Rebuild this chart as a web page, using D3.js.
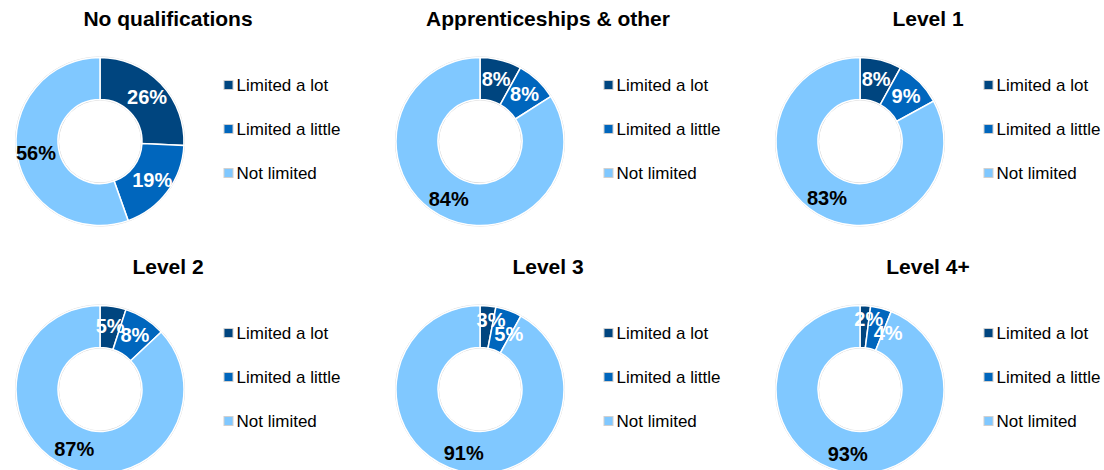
<!DOCTYPE html>
<html>
<head>
<meta charset="utf-8">
<script src="https://cdn.jsdelivr.net/npm/d3@7"></script>
<style>
  html, body { margin: 0; padding: 0; background: #ffffff; }
  svg { display: block; font-family: "Liberation Sans", Arial, sans-serif; }
</style>
</head>
<body>
<svg id="chart" width="1104" height="470"></svg>
<script>
// Activity limitation by highest qualification (% of people)
const panels = ["No qualifications", "Apprenticeships & other", "Level 1", "Level 2", "Level 3", "Level 4+"];
const categories = ["Limited a lot", "Limited a little", "Not limited"];
const limitedALot = [26, 8, 8, 5, 3, 2];
const limitedALittle = [19, 8, 9, 8, 5, 4];
const notLimited = [56, 84, 83, 87, 91, 93];

const colors = ["#00457f", "#0066bd", "#80c8ff"];
const labelColors = ["#ffffff", "#ffffff", "#000000"];

const svg = d3.select("#chart");

const outerR = 84, innerR = 42;
const labelR = 65;
const colStep = 380, rowStep = 248;
const firstCx = 100, firstCy = 141.5;

const color = d3.scaleOrdinal().domain(categories).range(colors);
const pie = d3.pie().sort(null).value(d => d.value);
const arc = d3.arc().innerRadius(innerR).outerRadius(outerR);

const polar = (r, a) => [r * Math.sin(a), -r * Math.cos(a)];

// Label positions: ring centroid, with crowded neighbours spread apart
function labelPositions(arcs) {
  const pos = arcs.map(d => polar(labelR, (d.startAngle + d.endAngle) / 2));
  for (let k = 1; k < arcs.length; k++) {
    const [px, py] = pos[k - 1];
    const [x, y] = pos[k];
    if (Math.abs(x - px) < 20 && Math.abs(y - py) < 14) {
      const a0 = (arcs[k - 1].startAngle + arcs[k - 1].endAngle) / 2;
      pos[k - 1] = polar(71, a0 + 0.06);
      let a = (arcs[k].startAngle + arcs[k].endAngle) / 2;
      let p = polar(63, a);
      while (p[1] - pos[k - 1][1] < 14 && a < Math.PI) {
        a += 0.005;
        p = polar(63, a);
      }
      pos[k] = p;
    }
  }
  return pos;
}

panels.forEach((name, i) => {
  const col = i % 3, row = Math.floor(i / 3);
  const cx = firstCx + col * colStep;
  const cy = firstCy + row * rowStep;
  const data = [
    { cat: categories[0], value: limitedALot[i] },
    { cat: categories[1], value: limitedALittle[i] },
    { cat: categories[2], value: notLimited[i] }
  ];

  const g = svg.append("g").attr("transform", `translate(${cx},${cy})`);

  // title
  svg.append("text")
    .attr("x", cx + 68)
    .attr("y", cy - 116)
    .attr("text-anchor", "middle")
    .attr("font-size", 21)
    .attr("font-weight", "bold")
    .attr("fill", "#000")
    .text(name);

  // faint rim around the ring
  g.append("circle").attr("r", outerR + 0.5)
    .attr("fill", "none").attr("stroke", "#d4d4d4").attr("stroke-width", 1);
  g.append("circle").attr("r", innerR - 0.5)
    .attr("fill", "none").attr("stroke", "#d4d4d4").attr("stroke-width", 1);

  const arcs = pie(data);
  g.selectAll("path.slice")
    .data(arcs)
    .join("path")
    .attr("class", "slice")
    .attr("d", arc)
    .attr("fill", d => color(d.data.cat))
    .attr("stroke", "#ffffff")
    .attr("stroke-width", 1.5);

  const pos = labelPositions(arcs);
  g.selectAll("text.value")
    .data(arcs)
    .join("text")
    .attr("class", "value")
    .attr("transform", (d, k) => `translate(${pos[k]})`)
    .attr("text-anchor", "middle")
    .attr("dy", "0.36em")
    .attr("font-size", 20)
    .attr("font-weight", "bold")
    .attr("fill", (d, k) => labelColors[k])
    .text(d => d.data.value + "%");

  // legend
  const lg = svg.append("g").attr("transform", `translate(${cx + 124},${cy - 56.5})`);
  categories.forEach((c, k) => {
    const item = lg.append("g").attr("transform", `translate(0,${k * 44})`);
    item.append("rect")
      .attr("x", 0).attr("y", -4.5)
      .attr("width", 9).attr("height", 9)
      .attr("fill", color(c))
      .attr("stroke", "#d0d0d0").attr("stroke-width", 1);
    item.append("text")
      .attr("x", 12.5).attr("y", 0)
      .attr("dy", "0.35em")
      .attr("font-size", 17)
      .attr("fill", "#000")
      .text(c);
  });
});
</script>
</body>
</html>
